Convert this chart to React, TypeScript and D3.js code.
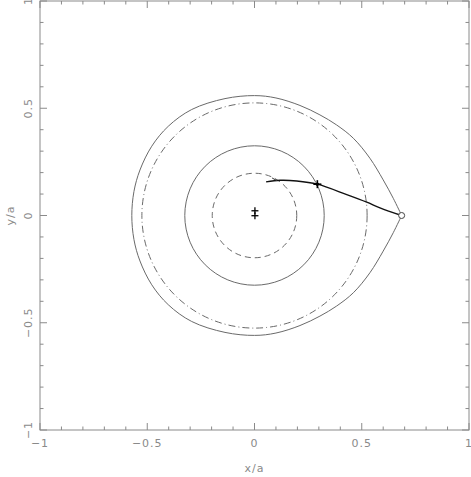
import * as d3 from "d3";
import { useEffect, useRef } from "react";

// axis ticks
const majorTicks = [-1, -0.5, 0, 0.5, 1];
const minorTicks = [-0.9, -0.8, -0.7, -0.6, -0.4, -0.3, -0.2, -0.1, 0.1, 0.2, 0.3, 0.4, 0.6, 0.7, 0.8, 0.9];
const tickLabels = ["\u22121", "\u22120.5", "0", "0.5", "1"];

// circles centred on the origin
const circles = [
  { r: 0.325, dash: "none" },
  { r: 0.197, dash: "6,4" },
  { r: 0.525, dash: "7,3,1,3" },
];

// upper half of the critical (teardrop) surface, read from cusp to far side
const lobeUpper: [number, number][] = [
  [0.686, 0],
  [0.647, 0.08],
  [0.6, 0.166],
  [0.538, 0.267],
  [0.461, 0.36],
  [0.383, 0.422],
  [0.305, 0.469],
  [0.212, 0.513],
  [0.1, 0.548],
  [0, 0.559],
  [-0.1375, 0.545],
  [-0.293, 0.494],
  [-0.402, 0.416],
  [-0.479, 0.323],
  [-0.534, 0.212],
  [-0.562, 0.112],
  [-0.572, 0],
];

// trajectory from the cusp towards the centre
const trajectory: [number, number][] = [
  [0.054, 0.157],
  [0.119, 0.164],
  [0.197, 0.161],
  [0.293, 0.146],
  [0.43, 0.097],
  [0.523, 0.062],
  [0.585, 0.036],
  [0.686, 0],
];
const hook: [number, number][] = [
  [0.082, 0.175],
  [0.105, 0.162],
];

const starPoint: [number, number] = [0.293, 0.146];
const centreMarks: [number, number][] = [
  [0.002, 0.022],
  [0.002, -0.001],
];
const cuspPoint: [number, number] = [0.686, 0];

export default function App() {
  const ref = useRef<SVGSVGElement>(null);
  const W = 471,
    H = 477;
  const left = 40,
    right = 469,
    top = 1,
    bottom = 430;

  useEffect(() => {
    const svg = d3.select(ref.current);
    svg.selectAll("*").remove();

    const x = d3.scaleLinear().domain([-1, 1]).range([left, right]);
    const y = d3.scaleLinear().domain([-1, 1]).range([bottom, top]);
    const axisColor = "#8a8a8a";
    const lineColor = "#6a6a6a";
    const font = "'DejaVu Sans', sans-serif";

    // frame
    svg.append("rect")
      .attr("x", left).attr("y", top)
      .attr("width", right - left).attr("height", bottom - top)
      .attr("fill", "none").attr("stroke", axisColor).attr("stroke-width", 1);

    const ticks = svg.append("g").attr("stroke", axisColor).attr("stroke-width", 1);
    const allTicks = [
      ...majorTicks.map((v) => ({ v, len: 7 })),
      ...minorTicks.map((v) => ({ v, len: 3.5 })),
    ];
    allTicks.forEach(({ v, len }) => {
      ticks.append("line").attr("x1", x(v)).attr("x2", x(v)).attr("y1", bottom).attr("y2", bottom - len);
      ticks.append("line").attr("x1", x(v)).attr("x2", x(v)).attr("y1", top).attr("y2", top + len);
      ticks.append("line").attr("y1", y(v)).attr("y2", y(v)).attr("x1", left).attr("x2", left + len);
      ticks.append("line").attr("y1", y(v)).attr("y2", y(v)).attr("x1", right).attr("x2", right - len);
    });

    // tick labels
    majorTicks.forEach((v, i) => {
      svg.append("text")
        .attr("x", x(v)).attr("y", 447)
        .attr("text-anchor", "middle")
        .attr("font-family", font).attr("font-size", 11)
        .attr("letter-spacing", 1)
        .attr("fill", axisColor)
        .text(tickLabels[i]);
      svg.append("text")
        .attr("transform", `translate(32,${y(v)}) rotate(-90)`)
        .attr("text-anchor", "middle")
        .attr("font-family", font).attr("font-size", 11)
        .attr("letter-spacing", 1)
        .attr("fill", axisColor)
        .text(tickLabels[i]);
    });

    // axis titles
    svg.append("text")
      .attr("x", x(0)).attr("y", 472)
      .attr("text-anchor", "middle")
      .attr("font-family", font).attr("font-size", 11)
      .attr("letter-spacing", 1)
      .attr("fill", axisColor)
      .text("x/a");
    svg.append("text")
      .attr("transform", `translate(14,${y(0)}) rotate(-90)`)
      .attr("text-anchor", "middle")
      .attr("font-family", font).attr("font-size", 11)
      .attr("letter-spacing", 1)
      .attr("fill", axisColor)
      .text("y/a");

    // circles
    circles.forEach((c) => {
      svg.append("circle")
        .attr("cx", x(0)).attr("cy", y(0))
        .attr("r", x(c.r) - x(0))
        .attr("fill", "none")
        .attr("stroke", lineColor).attr("stroke-width", 1)
        .attr("stroke-dasharray", c.dash);
    });

    // teardrop lobe (upper half then mirrored lower half back to the cusp)
    const lobe = [
      ...lobeUpper,
      ...lobeUpper.slice(0, -1).reverse().map(([a, b]) => [a, -b] as [number, number]),
    ];
    const line = d3.line<[number, number]>()
      .x((d) => x(d[0]))
      .y((d) => y(d[1]))
      .curve(d3.curveCatmullRom.alpha(0.5));
    svg.append("path")
      .attr("d", line(lobe))
      .attr("fill", "none").attr("stroke", lineColor).attr("stroke-width", 1);

    // trajectory
    svg.append("path")
      .attr("d", line(trajectory))
      .attr("fill", "none").attr("stroke", "#111").attr("stroke-width", 1.4);
    svg.append("path")
      .attr("d", d3.line<[number, number]>().x((d) => x(d[0])).y((d) => y(d[1]))(hook))
      .attr("fill", "none").attr("stroke", "#333").attr("stroke-width", 1);

    // markers
    const plus = (px: number, py: number, arm: number, w: number) => {
      svg.append("line").attr("x1", px - arm).attr("x2", px + arm).attr("y1", py).attr("y2", py)
        .attr("stroke", "#000").attr("stroke-width", w);
      svg.append("line").attr("x1", px).attr("x2", px).attr("y1", py - arm).attr("y2", py + arm)
        .attr("stroke", "#000").attr("stroke-width", w);
    };
    centreMarks.forEach(([a, b]) => plus(x(a), y(b), 3.5, 1.3));
    plus(x(starPoint[0]), y(starPoint[1]), 4, 1.6);
    svg.append("circle")
      .attr("cx", x(starPoint[0])).attr("cy", y(starPoint[1])).attr("r", 1.8)
      .attr("fill", "#000");

    svg.append("circle")
      .attr("cx", x(cuspPoint[0])).attr("cy", y(cuspPoint[1])).attr("r", 3)
      .attr("fill", "#fff").attr("stroke", "#444").attr("stroke-width", 1);
  }, []);

  return (
    <svg
      ref={ref}
      width={W}
      height={H}
      style={{ position: "absolute", left: 0, top: 0, background: "#fff" }}
    />
  );
}
